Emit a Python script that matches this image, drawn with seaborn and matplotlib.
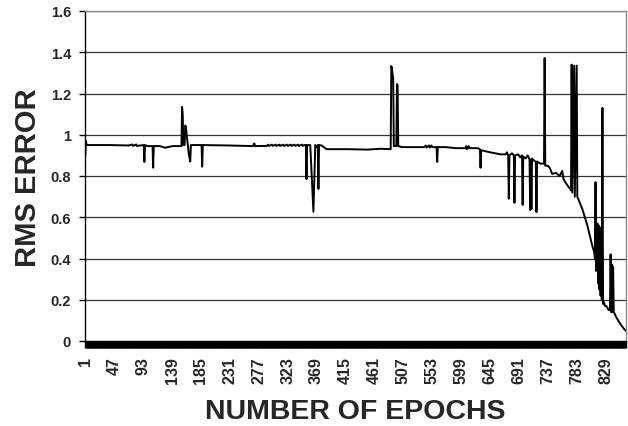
import matplotlib
matplotlib.use("Agg")
import matplotlib.pyplot as plt
import seaborn as sns
import pandas as pd

epochs = [1, 2, 3, 40, 70, 76, 77, 82, 83, 94, 95, 96, 100, 108, 109, 110, 120, 128, 132, 140,
          150, 154, 155, 156, 157, 159, 160, 161, 163, 166, 168, 169, 186, 187, 188, 230, 268, 270, 271,
          290, 292, 293, 298, 299, 304, 305, 310, 311, 316, 317, 322, 323, 328, 329, 334, 335, 340, 341,
          346, 347, 350, 352, 353, 354, 359, 362, 364, 366, 367, 369, 371, 372, 373, 377, 385, 420, 450,
          470, 487, 488, 489, 491, 492, 496, 497, 498, 499, 505, 540, 543, 544, 548, 549, 552, 553, 560,
          561, 562, 575, 590, 606, 607, 608, 611, 612, 625, 629, 630, 631, 645, 662, 670, 672, 674, 675,
          676, 680, 683, 684, 685, 690, 693, 696, 697, 698, 702, 705, 708, 709, 710, 711, 712, 715, 718,
          719, 720, 725, 731, 732, 733, 737, 740, 744, 750, 756, 760, 762, 767, 772, 774, 775, 776, 779,
          780, 783, 784, 788, 792, 796, 800, 804, 808, 811, 812, 813, 814, 815, 816, 817, 818, 819, 820,
          821, 822, 823, 824, 825, 826, 828, 830, 832, 834, 836, 837, 838, 839, 840, 841, 842, 843, 846,
          849, 852, 855, 858, 861]
rms_error = [0.90, 0.97, 0.95, 0.95, 0.948, 0.953, 0.946, 0.953, 0.946, 0.95, 0.868, 0.95, 0.945, 0.945, 0.84, 0.945, 0.945, 0.937, 0.94, 0.945,
             0.945, 0.945, 1.135, 1.10, 0.95, 0.95, 1.045, 1.04, 0.98, 0.90, 0.87, 0.95, 0.95, 0.845, 0.95, 0.948, 0.945, 0.958, 0.945,
             0.946, 0.952, 0.946, 0.952, 0.946, 0.952, 0.946, 0.952, 0.946, 0.952, 0.946, 0.952, 0.946, 0.952, 0.946, 0.952, 0.946, 0.952, 0.946,
             0.952, 0.946, 0.95, 0.95, 0.785, 0.95, 0.95, 0.75, 0.627, 0.85, 0.95, 0.94, 0.95, 0.737, 0.95, 0.948, 0.93, 0.93, 0.928,
             0.932, 0.93, 1.333, 1.32, 1.27, 0.945, 0.945, 1.246, 1.24, 0.945, 0.94, 0.94, 0.948, 0.938, 0.948, 0.938, 0.948, 0.94, 0.94,
             0.868, 0.94, 0.94, 0.935, 0.935, 0.945, 0.93, 0.945, 0.935, 0.935, 0.93, 0.84, 0.925, 0.915, 0.905, 0.905, 0.915, 0.90, 0.69,
             0.90, 0.91, 0.90, 0.67, 0.90, 0.905, 0.89, 0.90, 0.66, 0.895, 0.885, 0.90, 0.88, 0.635, 0.88, 0.64, 0.885, 0.875, 0.87,
             0.625, 0.87, 0.86, 0.86, 1.372, 0.85, 0.85, 0.84, 0.81, 0.815, 0.80, 0.825, 0.785, 0.76, 0.74, 0.73, 1.34, 0.72, 1.335,
             0.70, 1.335, 0.70, 0.67, 0.64, 0.60, 0.56, 0.51, 0.46, 0.43, 0.40, 0.77, 0.34, 0.55, 0.57, 0.28, 0.56, 0.25, 0.55,
             0.22, 0.35, 0.20, 1.13, 0.18, 0.19, 0.17, 0.17, 0.16, 0.15, 0.15, 0.42, 0.14, 0.37, 0.14, 0.36, 0.14, 0.135, 0.115,
             0.10, 0.085, 0.072, 0.06, 0.05]
n_epochs = 861
x_tick_labels = list(range(1, 830, 46))
y_ticks = [0, 0.2, 0.4, 0.6, 0.8, 1.0, 1.2, 1.4, 1.6]
y_tick_labels = ["0", "0.2", "0.4", "0.6", "0.8", "1", "1.2", "1.4", "1.6"]

df = pd.DataFrame({"epoch": epochs, "rms": rms_error})

sns.set_style("white")
plt.rcParams["font.family"] = ["Liberation Sans", "DejaVu Sans"]
plt.rcParams["font.weight"] = "bold"

fig = plt.figure(figsize=(6.28, 4.27), dpi=100)
ax = fig.add_axes([85 / 628, 1 - 342 / 427, 541 / 628, 330 / 427])

sns.lineplot(data=df, x="epoch", y="rms", color="black", linewidth=1.4, ax=ax)

ax.set_xlim(0.5, n_epochs + 0.5)
ax.set_ylim(0, 1.6)

# horizontal gridlines
for y in y_ticks[1:]:
    ax.axhline(y, color="#333333", linewidth=0.9, zorder=0)

ax.set_yticks(y_ticks)
ax.set_yticklabels(y_tick_labels, fontsize=10.5, fontweight="bold")
ax.set_xticks(x_tick_labels)
ax.set_xticklabels([str(v) for v in x_tick_labels], rotation=90, fontsize=11.5, fontweight="bold")
ax.set_xticks(range(1, n_epochs + 1), minor=True)
ax.tick_params(axis="x", which="both", direction="out", length=5, width=1.0, color="black",
               pad=6, bottom=True)
ax.tick_params(axis="y", direction="out", length=4, width=1.0, color="black", pad=6, left=True)

for side in ["top", "right"]:
    ax.spines[side].set_color("#8a8a8a")
    ax.spines[side].set_linewidth(1.0)
for side in ["left", "bottom"]:
    ax.spines[side].set_color("black")
    ax.spines[side].set_linewidth(1.0)

ax.set_xlabel("NUMBER OF EPOCHS", fontsize=20.5, fontweight="bold")
ax.set_ylabel("RMS ERROR", fontsize=21, fontweight="bold")
ax.xaxis.label.set_va("center")
ax.yaxis.label.set_va("center")
ax.xaxis.set_label_coords(0.5, -0.212)
ax.yaxis.set_label_coords(-0.105, 0.497)

fig.savefig("out.png", dpi=100)
